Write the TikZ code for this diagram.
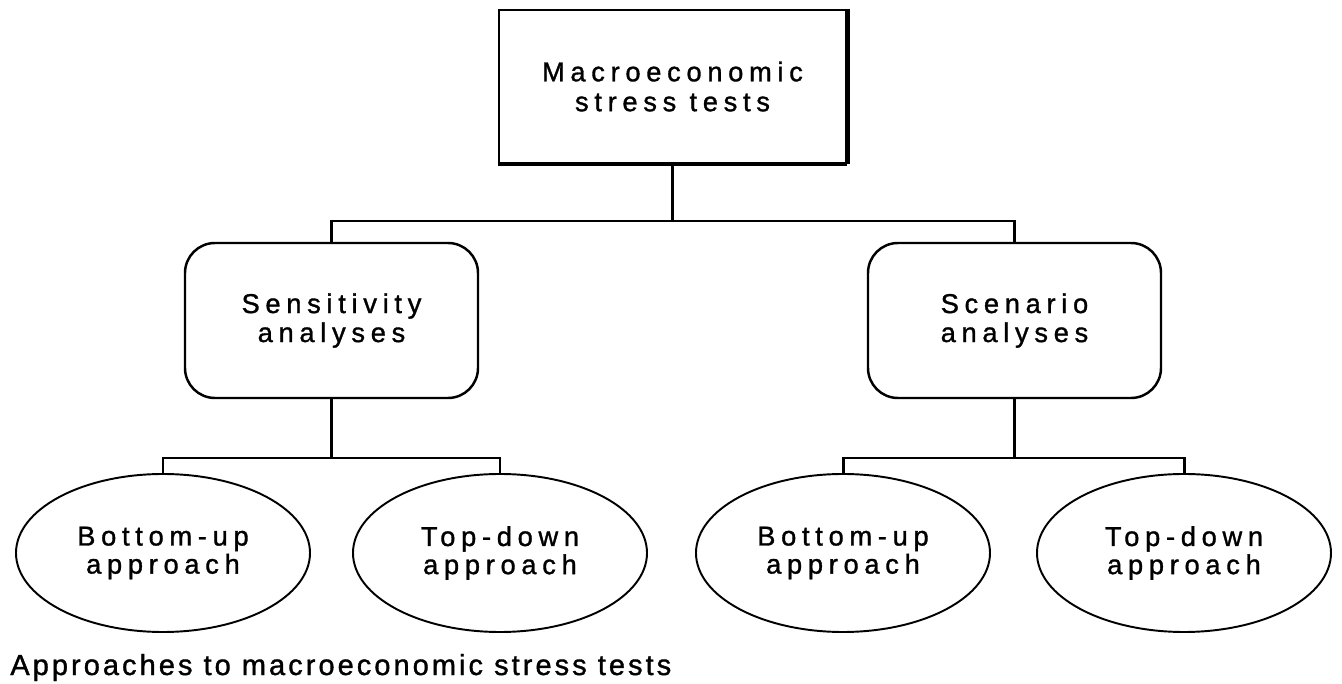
\documentclass[tikz,border=0pt]{standalone}
\usepackage{fontspec}
\setmainfont{Liberation Sans}
\newfontfamily\boxfont[LetterSpace=21, FakeBold=1.2]{Liberation Sans}
\newfontfamily\capfont[LetterSpace=10.5, FakeBold=1.2]{Liberation Sans}
\usetikzlibrary{positioning, shapes.geometric}
\tikzset{
  rootbox/.style={draw=black, line width=1.6pt, minimum width=6.94cm, minimum height=3.06cm,
    align=center, inner sep=0pt, font=\boxfont\fontsize{15.5}{17}\selectfont},
  analysisbox/.style={draw=black, line width=1.4pt, rounded corners=0.6cm, minimum width=5.86cm,
    minimum height=3.1cm, align=center, inner sep=0pt, font=\boxfont\fontsize{15.5}{16.5}\selectfont},
  approachleaf/.style={draw=black, ellipse, line width=1.1pt, minimum width=5.88cm, minimum height=3.16cm,
    align=center, inner sep=0pt, font=\boxfont\fontsize{15.5}{16}\selectfont},
  treeedge/.style={draw=black, line width=1.7pt},
  captiontext/.style={anchor=base west, inner sep=0pt, font=\capfont\fontsize{16.5}{18}\selectfont}
}

\begin{document}
\begin{tikzpicture}
  \useasboundingbox (0,0) rectangle (26.84,13.68);
  % top of the tree
  \node[rootbox] (root) at (13.45,11.95) {Macroeconomic\\stress tests};
  \draw[line width=3pt] (root.north east) -- (root.south east);
  \draw[line width=2.2pt] (root.south west) -- (root.south east);
  % two kinds of analysis
  \node[analysisbox] (sens) at (6.63,7.27) {Sensitivity\\analyses};
  \node[analysisbox] (scen) at (20.29,7.27) {Scenario\\analyses};
  % approaches
  \node[approachleaf] (sensbu) at (3.26,2.62) {Bottom-up\\approach};
  \node[approachleaf] (senstd) at (10.0,2.62) {Top-down\\approach};
  \node[approachleaf] (scenbu) at (16.86,2.62) {Bottom-up\\approach};
  \node[approachleaf] (scentd) at (23.68,2.62) {Top-down\\approach};
  \coordinate (rootsplit) at (13.45,9.26);
  \coordinate (senssplit) at (6.63,4.52);
  \coordinate (scensplit) at (20.29,4.52);
  \draw[treeedge] (root.south) -- (rootsplit);
  \draw[treeedge] (rootsplit) -| (sens.north);
  \draw[treeedge] (rootsplit) -| (scen.north);
  \draw[treeedge] (sens.south) -- (senssplit);
  \draw[treeedge] (senssplit) -| (sensbu.north);
  \draw[treeedge] (senssplit) -| (senstd.north);
  \draw[treeedge] (scen.south) -- (scensplit);
  \draw[treeedge] (scensplit) -| (scenbu.north);
  \draw[treeedge] (scensplit) -| (scentd.north);
  \node[captiontext] (caption) at (0.2,0.18) {Approaches to macroeconomic stress tests};
\end{tikzpicture}
\end{document}
